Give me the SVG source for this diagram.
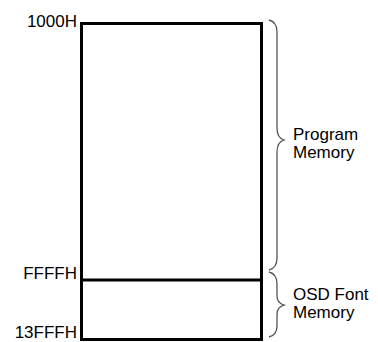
<svg xmlns="http://www.w3.org/2000/svg" width="378" height="342" viewBox="0 0 378 342">
<style>
.lbl{font-family:"Liberation Sans",Arial,sans-serif;font-size:17px;fill:#000}
.r{text-anchor:end}
.box{fill:none;stroke:#000;stroke-width:3}
.brace{fill:none;stroke:#555;stroke-width:1.3}
</style>
<rect width="378" height="342" fill="#fff"/>
<g id="memory-map">
<rect class="box" x="81.5" y="23.5" width="180" height="316"/>
<line class="box" x1="81.5" y1="280" x2="261.5" y2="280"/>
</g>
<g id="addresses">
<text class="lbl r" x="77" y="27">1000H</text>
<text class="lbl r" x="77" y="279">FFFFH</text>
<text class="lbl r" x="77" y="337.5">13FFFH</text>
</g>
<g id="connectors">
<path class="brace" d="M269,20 Q277,22 277,32 L277,128 Q277,138 284,140 Q277,142 277,152 L277,258 Q277,268 269,270"/>
<path class="brace" d="M269,272 Q277,274 277,284 L277,296 Q277,303 284,305 Q277,307 277,314 L277,326 Q277,335 269,337"/>
</g>
<g id="program-memory">
<text class="lbl" x="293" y="140">Program</text>
<text class="lbl" x="293" y="158">Memory</text>
</g>
<g id="osd-font-memory">
<text class="lbl" x="293" y="300">OSD Font</text>
<text class="lbl" x="293" y="318">Memory</text>
</g>
</svg>
